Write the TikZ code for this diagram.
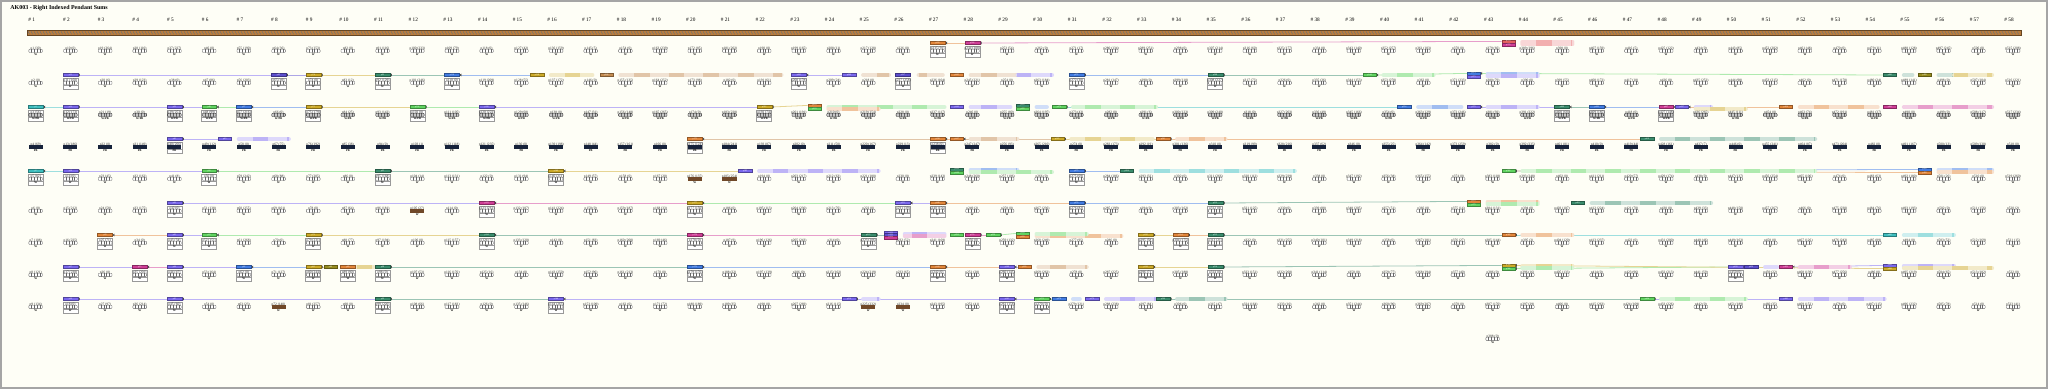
\documentclass[tikz,border=0pt]{standalone}
\usepackage{fontspec}
\setmainfont{Liberation Serif}
\usepackage{tikz}
\usetikzlibrary{arrows.meta,positioning}
\definecolor{khbg}{RGB}{254,254,246}
\definecolor{khframe}{RGB}{165,165,165}
\definecolor{khrope}{RGB}{185,125,62}
\definecolor{khnavy}{RGB}{22,34,58}
\definecolor{khbrown}{RGB}{112,72,40}
\definecolor{kpurple}{RGB}{123,104,238}
\definecolor{kindigo}{RGB}{92,78,205}
\definecolor{kblue}{RGB}{66,124,226}
\definecolor{kteal}{RGB}{58,140,108}
\definecolor{kgold}{RGB}{204,170,40}
\definecolor{korange}{RGB}{226,134,58}
\definecolor{kpink}{RGB}{208,62,150}
\definecolor{kgreen}{RGB}{96,212,96}
\definecolor{kcyan}{RGB}{62,190,190}
\definecolor{kred}{RGB}{228,96,96}
\definecolor{ktan}{RGB}{196,140,80}
\definecolor{kolive}{RGB}{150,140,30}
\pgfdeclarelayer{bg}
\pgfsetlayers{bg,main}
% x position of a pendant column
\newcommand{\colx}[1]{35.7+(#1-1)*34.69}
\tikzset{
  plabel/.style={font=\fontsize{2}{2.1}\selectfont, inner sep=0pt, text=black!85},
  wlabel/.style={font=\fontsize{1.6}{1.7}\selectfont\bfseries, inner sep=0pt},
  hdr/.style={font=\fontsize{3}{3.5}\selectfont, inner sep=0pt},
  knot/.style={draw=black!60, fill=white, rounded corners=0.5pt, minimum width=7.8pt,
    minimum height=1.9pt, inner sep=0pt, line width=0.2pt,
    path picture={\draw[black!60, line width=0.15pt] foreach \k in {-2.4,-0.8,0.8,2.4}
      {([xshift=\k pt]path picture bounding box.south) -- ([xshift=\k pt]path picture bounding box.north)};}},
  dense/.style={knot, draw=black!85, fill=black!22},
  navybar/.style={fill=khnavy, minimum width=8pt, minimum height=1.9pt, inner sep=0pt},
  brownbar/.style={fill=khbrown, minimum width=8pt, minimum height=1.9pt, inner sep=0pt},
  pbox/.style={draw=black!40, fill=white, line width=0.3pt},
  ptag/.style={fill=#1, draw=#1!65!black, line width=0.15pt, minimum width=8.5pt,
    minimum height=1.8pt, inner sep=0pt, text=white, font=\fontsize{1.2}{1.2}\selectfont},
  ftag/.style={ptag=#1, minimum width=7.6pt},
  link/.style={draw=#1!50, line width=0.45pt, {Triangle[length=1pt,width=1.6pt,color=black!70]}-},
  band/.style={draw=#1!25, line width=2.2pt, line cap=round},
  bandseg/.style={draw=#1!50, line width=2.2pt}
}
\begin{document}
\begin{tikzpicture}[x=0.02cm,y=-0.02cm]
  \useasboundingbox (0,0) rectangle (2048,389);
  \begin{pgfonlayer}{bg}
    \fill[khbg] (0,0) rectangle (2048,389);
    \draw[khframe, line width=0.8pt] (1,1) rectangle (2047,388);
  \end{pgfonlayer}
  % title and column numbers
  \node[anchor=west, font=\fontsize{3.4}{4}\selectfont\bfseries, inner sep=0pt] (title) at (10,8) {AK003 - Right Indexed Pendant Sums};
  \foreach \ci in {1,...,58}
    \node[hdr] (h\ci) at ({\colx{\ci}-4},20) {\# \ci};
  % main cord
  \fill[khrope] (27,30.5) rectangle (2021,35);
  \foreach \k in {0,...,663}
    \draw[black!55, line width=0.3pt] ({28+\k*3},31.3) -- ({29.6+\k*3},34.2);
  \draw[khrope!55!black, line width=0.25pt] (27,30.5) rectangle (2021,35);
  % summed pendants: name/row/column/colour/dy/boxed
  \foreach \n/\ri/\ci/\col/\dy/\bx in {
    t1a/1/27/korange/0/1, t1b/1/28/kpink/0/1, t1c/1/43.45/kred/-1.6/0, t1d/1/43.45/kpink/1.6/0,
    t2a/2/2/kpurple/0/1, t2b/2/8/kindigo/0/1, t2c/2/9/kgold/0/1, t2d/2/11/kteal/0/1, t2e/2/13/kblue/0/1,
    t2f/2/15.45/kgold/0/0, t2g/2/17.45/ktan/0/0, t2h/2/23/kpurple/0/1, t2i/2/24.45/kpurple/0/0,
    t2j/2/26/kindigo/0/1, t2k/2/27.55/korange/0/0, t2l/2/31/kblue/0/1, t2m/2/35/kteal/0/1,
    t2n/2/39.45/kgreen/0/0, t2o/2/42.45/kblue/-1.6/0, t2p/2/42.45/kpurple/1.6/0, t2q/2/54.45/kteal/0/0,
    t2r/2/55.45/kolive/0/0,
    t3a/3/1/kcyan/0/1, t3b/3/2/kpurple/0/1, t3c/3/5/kpurple/0/1, t3d/3/6/kgreen/0/1, t3e/3/7/kblue/0/1,
    t3f/3/9/kgold/0/1, t3g/3/12/kgreen/0/1, t3h/3/14/kpurple/0/1, t3i/3/22/kgold/0/1,
    t3j/3/23.45/korange/-1.6/0, t3k/3/23.45/kgreen/1.6/0, t3l/3/27.55/kpurple/0/0,
    t3m/3/29.45/kteal/-1.6/0, t3n/3/29.45/kgreen/1.6/0, t3o/3/30.5/kgreen/0/0, t3p/3/40.45/kblue/0/0,
    t3q/3/42.45/kpurple/0/0, t3r/3/45/kteal/0/1, t3s/3/46/kblue/0/1, t3t/3/48/kpink/0/1,
    t3u/3/48.45/kpurple/0/0, t3v/3/51.45/korange/0/0, t3w/3/54.45/kpink/0/0,
    t4a/4/5/kpurple/0/1, t4b/4/6.45/kpurple/0/0, t4c/4/20/korange/0/1, t4d/4/27/korange/0/1,
    t4e/4/27.55/korange/0/0, t4f/4/30.45/kgold/0/0, t4g/4/33.5/korange/0/0, t4h/4/47.45/kteal/0/0,
    t5a/5/1/kcyan/0/1, t5b/5/2/kpurple/0/1, t5c/5/6/kgreen/0/1, t5d/5/11/kteal/0/1, t5e/5/16/kgold/0/1,
    t5f/5/21.45/kpurple/0/0, t5g/5/27.55/kteal/-1.6/0, t5h/5/27.55/kgreen/1.6/0, t5i/5/31/kblue/0/1,
    t5j/5/32.45/kteal/0/0, t5k/5/43.45/kgreen/0/0, t5m/5/55.45/kblue/-1.6/0, t5n/5/55.45/korange/1.6/0,
    t6a/6/5/kpurple/0/1, t6b/6/14/kpink/0/1, t6c/6/20/kgold/0/1, t6d/6/26/kpurple/0/1, t6e/6/27/korange/0/1,
    t6f/6/31/kblue/0/1, t6g/6/35/kteal/0/1, t6h/6/42.45/korange/-1.6/0, t6i/6/42.45/kgreen/1.6/0,
    t6j/6/45.45/kteal/0/0,
    t7a/7/3/korange/0/1, t7b/7/5/kpurple/0/1, t7c/7/6/kgreen/0/1, t7d/7/9/kgold/0/1, t7e/7/14/kteal/0/1,
    t7f/7/20/kpink/0/1, t7g/7/25/kteal/0/1, t7h/7/25.65/kpurple/-2.4/0, t7i/7/25.65/kindigo/0/0,
    t7j/7/25.65/kpink/2.4/0, t7k/7/27.55/kgreen/0/0, t7l/7/28/kpink/0/1, t7m/7/28.6/kgreen/0/0,
    t7n/7/29.45/kgreen/-1.6/0, t7o/7/29.45/korange/1.6/0, t7p/7/33/kgold/0/1, t7q/7/34/korange/0/1,
    t7r/7/35/kteal/0/1, t7s/7/43.45/korange/0/0, t7t/7/54.45/kcyan/0/0,
    t8a/8/2/kpurple/0/1, t8b/8/4/kpink/0/1, t8c/8/5/kpurple/0/1, t8d/8/7/kblue/0/1, t8e/8/9/kgold/0/1,
    t8f/8/9.5/kolive/0/0, t8g/8/10/korange/0/1, t8h/8/11/kteal/0/1, t8i/8/20/kblue/0/1,
    t8j/8/27/korange/0/1, t8k/8/29/kpurple/0/1, t8l/8/29.5/korange/0/0, t8m/8/33/kgold/0/1,
    t8n/8/35/kteal/0/1, t8o/8/43.45/kgold/-1.6/0, t8p/8/43.45/kgreen/1.6/0, t8q/8/50/kpurple/0/1,
    t8r/8/50.45/kindigo/0/0, t8s/8/51.45/kpink/0/0, t8t/8/54.45/kpurple/-1.6/0, t8u/8/54.45/kgold/1.6/0,
    t9a/9/2/kpurple/0/1, t9b/9/5/kpurple/0/1, t9c/9/11/kteal/0/1, t9d/9/16/kpurple/0/1,
    t9e/9/24.45/kpurple/0/0, t9f/9/29/kpurple/0/1, t9g/9/30/kgreen/0/1, t9h/9/30.5/kblue/0/0,
    t9i/9/31.45/kpurple/0/0, t9j/9/33.5/kteal/0/0, t9k/9/47.45/kgreen/0/0, t9l/9/51.45/kpurple/0/0}{
    \pgfmathsetmacro{\xt}{\colx{\ci}}
    \pgfmathsetmacro{\yt}{43+(\ri-1)*32}
    \pgfmathtruncatemacro{\tn}{(round(\ci)-1)*9+\ri+(round(\ci)>43)}
    \ifnum\bx=1
      \draw[pbox] (\xt-7.5,\yt+3) rectangle (\xt+7.5,\yt+14.6);
      \draw[black!40, line width=0.25pt] (\xt-7.5,\yt+10.2) -- (\xt+7.5,\yt+10.2);
      \node[ptag=\col] (\n) at (\xt,\yt) {p\tn};
    \else
      \node[ftag=\col] (\n) at (\xt,\yt+\dy) {p\tn};
    \fi
  }
  % pendants
  \foreach \ci in {1,...,58}{
    \foreach \ri in {1,...,9}{
      \pgfmathsetmacro{\xc}{\colx{\ci}}
      \pgfmathsetmacro{\yr}{43+(\ri-1)*32}
      \pgfmathtruncatemacro{\pn}{(\ci-1)*9+\ri+(\ci>43)}
      \pgfmathtruncatemacro{\pv}{mod(\pn,4)==2 ? 0 : mod(\pn*13+17,271)}
      \pgfmathtruncatemacro{\gk}{\ri==4 ? 1 : (\ri==3 ? 2 : 0)}
      \pgfmathtruncatemacro{\gb}{((\ci==8)&&(\ri==9))||((\ci==25)&&(\ri==9))||((\ci==26)&&(\ri==9))||((\ci==20)&&(\ri==5))||((\ci==21)&&(\ri==5))||((\ci==12)&&(\ri==6))}
      \ifnum\gb=1 \def\gk{3}\fi
      \node[plabel] (l\ci-\ri) at (\xc,\yr+5.2) {p\pn{} (\pv)};
      \ifcase\gk
        \node[knot] (g\ci-\ri) at (\xc,\yr+7.9) {};
      \or
        \node[navybar] (g\ci-\ri) at (\xc,\yr+7.9) {};
      \or
        \node[dense] (g\ci-\ri) at (\xc,\yr+7.9) {};
      \or
        \node[brownbar] (g\ci-\ri) at (\xc,\yr+7.9) {};
      \fi
      \node[wlabel] (w\ci-\ri) at (\xc,\yr+11.8) {\ifcase\gk W\or PB\or W/PB\or W\fi};
    }
  }
  % the tenth pendant of column 43
  \node[plabel] (l43-10) at ({\colx{43}},336.2) {p388 (0)};
  \node[knot] (g43-10) at ({\colx{43}},338.9) {};
  \node[wlabel] (w43-10) at ({\colx{43}},342.8) {W};
  \begin{pgfonlayer}{bg}
    % links between summed pendants
    \foreach \fa/\fb/\col in {
      t1a/t1b/korange, t1b/t1c/kpink,
      t2a/t2b/kpurple, t2b/t2c/kindigo, t2c/t2d/kgold, t2d/t2e/kteal, t2e/t2f/kblue, t2h/t2i/kpurple,
      t2l/t2m/kblue, t2m/t2n/kteal, t2n/t2o/kgreen, t2o/t2q/kgreen,
      t3a/t3b/kcyan, t3b/t3c/kpurple, t3c/t3d/kpurple, t3d/t3e/kgreen, t3e/t3f/kblue, t3f/t3g/kgold,
      t3g/t3h/kgreen, t3h/t3i/kpurple, t3i/t3j/kgold, t3o/t3p/kcyan, t3q/t3r/kpurple, t3r/t3s/kteal,
      t3s/t3t/kblue, t3t/t3u/kpink, t3u/t3v/korange,
      t4a/t4b/kpurple, t4c/t4d/ktan, t4d/t4e/korange, t4e/t4f/ktan, t4f/t4g/kgold, t4g/t4h/korange,
      t5a/t5b/kcyan, t5b/t5c/kpurple, t5c/t5d/kgreen, t5d/t5e/kteal, t5e/t5f/kgold, t5i/t5j/kblue,
      t5k/t5m/kblue, t5k/t5n/korange,
      t6a/t6b/kpurple, t6b/t6c/kpink, t6c/t6d/kgreen, t6d/t6e/kpurple, t6e/t6f/korange, t6f/t6g/kblue,
      t6g/t6h/kteal,
      t7a/t7b/korange, t7b/t7c/kpurple, t7c/t7d/kgreen, t7d/t7e/kgold, t7e/t7f/kteal, t7f/t7g/kpink,
      t7g/t7i/kteal, t7l/t7m/kpink, t7m/t7n/kgreen, t7p/t7q/kgold, t7q/t7r/korange, t7r/t7s/kteal,
      t7s/t7t/kcyan,
      t8a/t8b/kpurple, t8b/t8c/kpink, t8c/t8d/kpurple, t8d/t8e/kblue, t8e/t8f/kgold, t8h/t8i/kteal,
      t8i/t8j/kblue, t8j/t8k/korange, t8k/t8l/kpurple, t8m/t8n/kgold, t8n/t8o/kteal, t8p/t8q/kgreen,
      t8q/t8r/kpurple, t8s/t8t/kpurple, t8o/t8u/kgold,
      t9a/t9b/kpurple, t9b/t9c/kpurple, t9c/t9d/kteal, t9d/t9e/kpurple, t9e/t9f/kpurple, t9f/t9g/kpurple,
      t9g/t9h/kgreen, t9j/t9k/kteal, t9k/t9l/kpurple}
      \draw[link=\col] (\fa.east) -- (\fb.west);
    % pale bands: row/from/to/colour/dy
    \foreach \ri/\fa/\fb/\col/\dy in {
      1/43.85/45.3/kred/-1.2, 1/43.85/45.3/kred/1.2,
      2/15.85/17.05/kgold/0, 2/17.85/22.5/ktan/0, 2/24.85/25.6/ktan/0, 2/26.45/27.15/ktan/0,
      2/27.95/29.3/ktan/0, 2/29.3/30.3/kpurple/0, 2/39.85/41.3/kgreen/0, 2/42.85/44.3/kblue/-1.2,
      2/42.85/44.3/kpurple/1.2, 2/54.85/55.1/kteal/0, 2/55.85/56.3/kteal/0, 2/56.3/57.4/kgold/0,
      3/23.85/27.2/kgreen/0, 3/23.85/25.3/korange/2, 3/27.95/29.1/kpurple/0, 3/29.85/30.15/kblue/0,
      3/30.9/33.3/kgreen/0, 3/40.85/42.1/kblue/0, 3/42.85/44.3/kpurple/0, 3/48.85/49.3/kpurple/0,
      3/48.85/50.3/kgold/2, 3/51.85/54.1/korange/0, 3/54.85/57.4/kpink/0,
      4/6.85/8.3/kpurple/0, 4/27.95/29.3/ktan/0, 4/30.85/33.2/kgold/0, 4/33.9/35.3/korange/0,
      4/47.85/52.3/kteal/0,
      5/21.85/25.3/kpurple/0, 5/27.95/29.3/kblue/-1.2, 5/27.95/30.3/kgreen/1.2, 5/32.85/37.3/kcyan/0,
      5/43.85/52.3/kgreen/0, 5/55.85/57.4/kblue/-1.2, 5/55.85/57.4/korange/1.2,
      6/42.85/44.3/korange/-1.2, 6/42.85/44.3/kgreen/1.2, 6/45.85/49.3/kteal/0,
      7/26.05/27.2/kpurple/-1.2, 7/26.05/27.2/kpink/1.2, 7/29.85/32.3/korange/1.2,
      7/29.85/31.3/kgreen/-1.2, 7/43.85/45.3/korange/0, 7/54.85/56.3/kcyan/0,
      8/10.25/10.75/kgold/0, 8/29.9/31.3/ktan/0, 8/43.85/45.3/kgold/-1.2, 8/43.85/45.3/kgreen/1.2,
      8/50.85/51.2/kpurple/0, 8/51.85/53.3/kpink/0, 8/54.85/56.3/kpurple/-1.2, 8/54.85/57.4/kgold/1.2,
      9/24.85/25.3/kpurple/0, 9/30.9/31.1/kblue/0, 9/31.85/33.3/kpurple/0, 9/33.9/35.3/kteal/0,
      9/47.85/50.3/kgreen/0, 9/51.85/54.3/kpurple/0}{
      \pgfmathsetmacro{\xa}{\colx{\fa}}
      \pgfmathsetmacro{\xb}{\colx{\fb}}
      \pgfmathsetmacro{\yb}{43+(\ri-1)*32+\dy}
      \draw[band=\col] (\xa,\yb) -- (\xb,\yb);
      \pgfmathtruncatemacro{\ka}{floor(\fa)}
      \pgfmathtruncatemacro{\kb}{floor(\fb)}
      \foreach \k in {\ka,...,\kb}{
        \pgfmathsetmacro{\sa}{max(\k+0.25,\fa)}
        \pgfmathsetmacro{\sb}{min(\k+0.7,\fb)}
        \ifdim\sa pt<\sb pt
          \draw[bandseg=\col] ({\colx{\sa}},\yb) -- ({\colx{\sb}},\yb);
        \fi
      }
    }
  \end{pgfonlayer}
\end{tikzpicture}
\end{document}
